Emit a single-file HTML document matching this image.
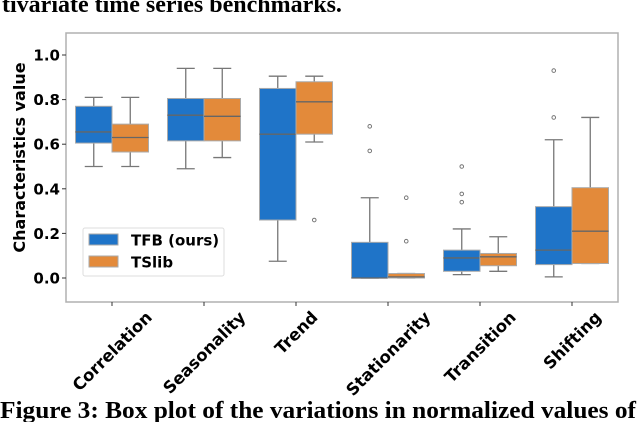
<!DOCTYPE html>
<html><head><meta charset="utf-8"><style>
body{margin:0;background:#fff;width:640px;height:422px;overflow:hidden}
svg text{font-family:"DejaVu Sans","Liberation Sans",sans-serif}
.serif{font-family:"Liberation Serif",serif !important}
</style></head><body>
<svg id="c" width="640" height="422">
<text class="serif" x="2" y="12" font-size="24" font-weight="bold">tivariate time series benchmarks.</text>
<text class="serif" x="0" y="418" font-size="24.5" font-weight="bold" textLength="636" lengthAdjust="spacingAndGlyphs">Figure 3: Box plot of the variations in normalized values of</text>
</svg>
<script>
const categories=["Correlation","Seasonality","Trend","Stationarity","Transition","Shifting"];
const yTicks=[0.0,0.2,0.4,0.6,0.8,1.0];
const yTickLabels=["0.0","0.2","0.4","0.6","0.8","1.0"];
// [whiskerLow, q1, median, q3, whiskerHigh]
const tfbStats=[[0.50,0.605,0.655,0.77,0.81],[0.49,0.615,0.73,0.805,0.94],[0.075,0.26,0.645,0.85,0.905],[0.0,0.0,0.0,0.16,0.36],[0.015,0.03,0.09,0.125,0.22],[0.005,0.06,0.125,0.32,0.62]];
const tslibStats=[[0.50,0.565,0.63,0.69,0.81],[0.54,0.615,0.725,0.805,0.94],[0.61,0.645,0.79,0.88,0.905],[0.0,0.0,0.005,0.02,0.02],[0.03,0.055,0.095,0.11,0.185],[0.065,0.065,0.21,0.405,0.72]];
const tfbOutliers=[[],[],[],[0.57,0.68],[0.34,0.377,0.50],[0.72,0.93]];
const tslibOutliers=[[],[],[0.26],[0.165,0.36],[],[]];
const L=66,R=618,T=33,B=302;
const y=v=>278-v*223;
const band=(R-L)/categories.length;
const xc=i=>L+band*(i+0.5);
const svg=document.getElementById('c');const NS='http://www.w3.org/2000/svg';
function mk(t,a,p){const e=document.createElementNS(NS,t);for(const k in a)e.setAttribute(k,a[k]);(p||svg).appendChild(e);return e;}
const frame=mk('rect',{x:L,y:T,width:R-L,height:B-T,fill:'none',stroke:'#b0b0b0','stroke-width':1.5});


yTicks.forEach((v,i)=>{
 mk('line',{x1:L-4,x2:L,y1:y(v),y2:y(v),stroke:'#333'});
 const t=mk('text',{x:L-6,y:y(v)+5.5,'text-anchor':'end','font-size':15,'font-weight':'bold'});t.textContent=yTickLabels[i];
 
 
});
const yt=mk('text',{x:25,y:(T+B)/2-10,'text-anchor':'middle','font-size':16,'font-weight':'bold',transform:`rotate(-90 25 ${(T+B)/2-10})`});yt.textContent='Characteristics value';


const bw=36.5;
function box(x0,s,col,outs,name){
 const g=mk('g',{});
 
 
 const cx=x0+bw/2;
 mk('line',{x1:cx,x2:cx,y1:y(s[0]),y2:y(s[1]),stroke:'#777','stroke-width':1.3},g);
 mk('line',{x1:cx,x2:cx,y1:y(s[3]),y2:y(s[4]),stroke:'#777','stroke-width':1.3},g);
 mk('line',{x1:cx-9,x2:cx+9,y1:y(s[0]),y2:y(s[0]),stroke:'#777','stroke-width':1.3},g);
 mk('line',{x1:cx-9,x2:cx+9,y1:y(s[4]),y2:y(s[4]),stroke:'#777','stroke-width':1.3},g);
 mk('rect',{x:x0,y:y(s[3]),width:bw,height:Math.max(1.5,y(s[1])-y(s[3])),fill:col,stroke:'#aaa','stroke-width':1},g);
 mk('line',{x1:x0,x2:x0+bw,y1:y(s[2]),y2:y(s[2]),stroke:'#666','stroke-width':1.3},g);
 outs.forEach(o=>mk('circle',{cx:cx,cy:y(o),r:1.8,fill:'none',stroke:'#777','stroke-width':1},g));
}
categories.forEach((c,i)=>{
 const x=xc(i);
 box(x-bw,tfbStats[i],'#1f74c8',tfbOutliers[i],'box-tfb-'+c.toLowerCase());
 box(x,tslibStats[i],'#e38a3a',tslibOutliers[i],'box-tslib-'+c.toLowerCase());
 mk('line',{x1:x,x2:x,y1:B,y2:B+4,stroke:'#333'});
 const t=mk('text',{x:x,y:0,'text-anchor':'middle','font-size':16.5,'font-weight':'bold'});t.textContent=c;
 
 
 const len=t.getComputedTextLength();
 const cy=B+12+len*0.354;
 t.setAttribute('y',cy+6);
 t.setAttribute('transform',`rotate(-45 ${x} ${cy})`);
});
const lg=mk('g',{});


mk('rect',{x:83,y:228,width:141,height:48,fill:'#fff','fill-opacity':0.85,stroke:'#ddd',rx:2},lg);
[['TFB (ours)','#1f74c8',234],['TSlib','#e38a3a',256]].forEach(([n,c,yy])=>{
 mk('rect',{x:89,y:yy,width:29,height:11,fill:c,stroke:'#aaa'},lg);
 const t=mk('text',{x:131,y:yy+11.5,'font-size':15,'font-weight':'bold'},lg);t.textContent=n;
 
 
});
</script>
</body></html>
